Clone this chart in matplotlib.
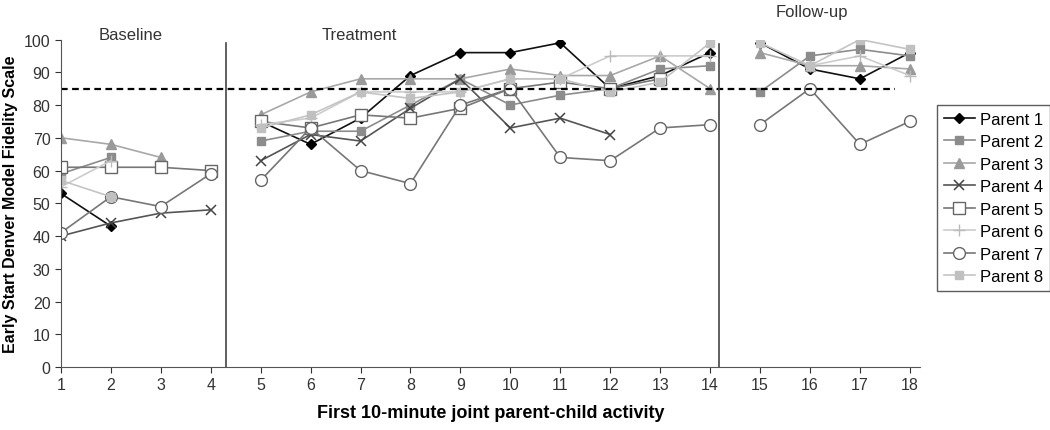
import numpy as np
import matplotlib
matplotlib.use("Agg")
import matplotlib.pyplot as plt

plt.rcParams['font.family'] = ['Liberation Sans', 'DejaVu Sans']

nan = np.nan
sessions = list(range(1, 19))
phases = [(1, 4), (5, 14), (15, 18)]
phase_labels = ["Baseline", "Treatment", "Follow-up"]
criterion = 85

parent1 = [53, 43, nan, nan, 75, 68, 76, 89, 96, 96, 99, 85, 89, 96, 99, 91, 88, 96]
parent2 = [59, 64, nan, nan, 69, 72, 72, 80, 88, 80, 83, 85, 91, 92, 84, 95, 97, 95]
parent3 = [70, 68, 64, nan, 77, 84, 88, 88, 88, 91, 89, 89, 95, 85, 96, 92, 92, 91]
parent4 = [40, 44, 47, 48, 63, 71, 69, 79, 88, 73, 76, 71, nan, nan, nan, nan, nan, nan]
parent5 = [61, 61, 61, 60, 75, 73, 77, 76, 79, 85, 87, 85, 88, nan, nan, nan, nan, nan]
parent6 = [55, 63, nan, nan, 74, 76, 84, 84, 84, 88, 88, 95, 95, 95, nan, 92, 95, 89]
parent7 = [41, 52, 49, 59, 57, 73, 60, 56, 80, 85, 64, 63, 73, 74, 74, 85, 68, 75]
parent8 = [57, 52, nan, nan, 73, 77, 84, 82, 84, 88, 88, 84, 87, 99, 99, 92, 100, 97]

series = [parent1, parent2, parent3, parent4, parent5, parent6, parent7, parent8]
names = ["Parent %d" % i for i in range(1, 9)]
styles = [
    dict(color="#111111", marker="D", mfc="#000000", mec="#000000", ms=5.5),
    dict(color="#8c8c8c", marker="s", mfc="#8c8c8c", mec="#8c8c8c", ms=6),
    dict(color="#a8a8a8", marker="^", mfc="#9a9a9a", mec="#9a9a9a", ms=7),
    dict(color="#555555", marker="x", mfc="#444444", mec="#444444", ms=6.5, mew=1.1),
    dict(color="#777777", marker="s", mfc="white", mec="#666666", ms=8, mew=1.0),
    dict(color="#cccccc", marker="+", mfc="#bbbbbb", mec="#bbbbbb", ms=8, mew=1.0),
    dict(color="#777777", marker="o", mfc="white", mec="#666666", ms=8.5, mew=1.0),
    dict(color="#c4c4c4", marker="s", mfc="#c0c0c0", mec="#c0c0c0", ms=6),
]

fig = plt.figure(figsize=(10.5, 4.31), dpi=100)
ax = fig.add_axes([0.058, 0.146, 0.818, 0.76])
x = np.array(sessions)
for vals, name, st in zip(series, names, styles):
    y = np.array(vals, dtype=float)
    first = True
    # separate line segments for each phase
    for lo, hi in phases:
        m = (x >= lo) & (x <= hi)
        ax.plot(x[m], y[m], lw=1.2, label=name if first else None, **st)
        first = False

ax.axhline(criterion, xmin=0, xmax=0.971, color="black", ls=(0, (3, 2)), lw=1.6)
ax.axvline(4.3, ymin=0, ymax=0.99, color="#444444", lw=1.2)
ax.axvline(14.18, ymin=0, ymax=0.985, color="#444444", lw=1.2)

ax.text(2.4, 101.6, phase_labels[0], ha="center", va="center", fontsize=12, color="#333333")
ax.text(6.98, 101.6, phase_labels[1], ha="center", va="center", fontsize=12, color="#333333")
ax.text(16.03, 108.5, phase_labels[2], ha="center", va="center", fontsize=12, color="#333333",
        clip_on=False)

ax.set_xlim(1, 18.2)
ax.set_ylim(0, 100)
ax.set_xticks(sessions)
ax.set_yticks(range(0, 101, 10))
ax.tick_params(labelsize=11.5, colors="#333333", direction="out", length=4)
for s in ["top", "right"]:
    ax.spines[s].set_visible(False)
for s in ["left", "bottom"]:
    ax.spines[s].set_color("#555555")
ax.set_xlabel("First 10-minute joint parent-child activity", fontsize=13, fontweight="bold",
              labelpad=8)
ax.set_ylabel("Early Start Denver Model Fidelity Scale", fontsize=11.5, fontweight="bold",
              labelpad=4)

leg = ax.legend(loc="upper left", bbox_to_anchor=(1.02, 0.80), fontsize=12, frameon=True,
                fancybox=False, edgecolor="#333333", handlelength=1.9, borderpad=0.4,
                labelspacing=0.45, handletextpad=0.3, borderaxespad=0)
leg.get_frame().set_linewidth(1.0)

fig.savefig("out.png", dpi=100)
